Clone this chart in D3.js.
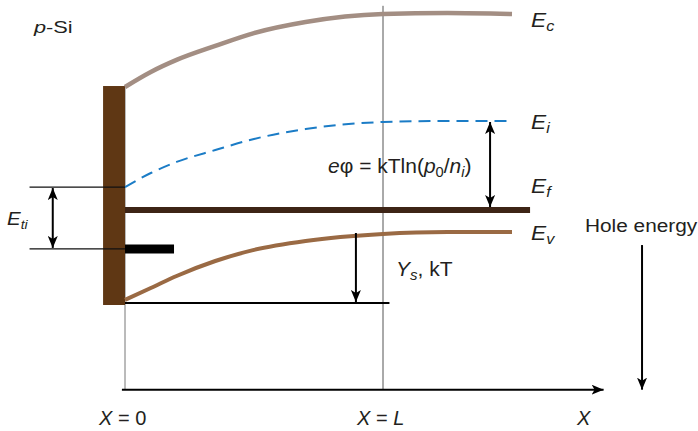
<!DOCTYPE html>
<html>
<head>
<meta charset="utf-8">
<script src="https://cdn.jsdelivr.net/npm/d3@7"></script>
<style>
  body { margin: 0; background: #fff; }
  text { font-family: "Liberation Sans", Arial, sans-serif; fill: #231f20; }
</style>
</head>
<body>
<svg id="chart" width="698" height="431"></svg>
<script>
// position along the semiconductor, in units of L
const xPos = [0, 0.1, 0.2, 0.35, 0.5, 0.7, 1.0, 1.25, 1.5];
// band energies in eV (bulk Ev = 0)
const ecBand = [0.745, 0.822, 0.884, 0.956, 1.022, 1.079, 1.12, 1.125, 1.12];
const eiBand = [0.231, 0.303, 0.360, 0.421, 0.478, 0.529, 0.565, 0.570, 0.570];
const evBand = [-0.349, -0.288, -0.226, -0.149, -0.092, -0.046, -0.010, 0, 0];
const fermiLevel = 0.113;
const trapLevel = -0.087;
const ysLevel = -0.365;
const axisLevel = -0.81;

const svg = d3.select("#chart");

const x = d3.scaleLinear().domain([0, 1]).range([125, 383]);
const y = d3.scaleLinear().domain([0, 1.12]).range([232, 14]);

// arrow heads
const defs = svg.append("defs");
defs.append("marker")
  .attr("id", "head")
  .attr("viewBox", "0 0 12 10")
  .attr("refX", 12).attr("refY", 5)
  .attr("markerWidth", 12).attr("markerHeight", 10)
  .attr("markerUnits", "userSpaceOnUse")
  .attr("orient", "auto-start-reverse")
  .append("path")
  .attr("d", "M0,0 L12,5 L0,10 L3,5 Z")
  .attr("fill", "#000");

const band = d3.line()
  .x((d, i) => x(xPos[i]))
  .y(d => y(d))
  .curve(d3.curveMonotoneX);

// guide lines
svg.append("line")
  .attr("x1", x(1)).attr("x2", x(1))
  .attr("y1", y(1.162)).attr("y2", y(axisLevel))
  .attr("stroke", "#555").attr("stroke-width", 1);
svg.append("line")
  .attr("x1", x(0)).attr("x2", x(0))
  .attr("y1", y(0.75)).attr("y2", y(axisLevel))
  .attr("stroke", "#777").attr("stroke-width", 1);

// x axis
svg.append("line")
  .attr("x1", x(-0.012)).attr("x2", x(1.855))
  .attr("y1", y(axisLevel)).attr("y2", y(axisLevel))
  .attr("stroke", "#000").attr("stroke-width", 2)
  .attr("marker-end", "url(#head)");

// surface wall
svg.append("rect")
  .attr("x", x(-0.085)).attr("width", x(0) - x(-0.085))
  .attr("y", y(0.75)).attr("height", y(-0.375) - y(0.75))
  .attr("fill", "#5f3714");

// bands
svg.append("path").datum(ecBand)
  .attr("d", band).attr("fill", "none")
  .attr("stroke", "#a38e83").attr("stroke-width", 4.5);
svg.append("path").datum(eiBand)
  .attr("d", band).attr("fill", "none")
  .attr("stroke", "#1b7cc6").attr("stroke-width", 2)
  .attr("stroke-dasharray", "12,7");
svg.append("path").datum(evBand)
  .attr("d", band).attr("fill", "none")
  .attr("stroke", "#9a6a44").attr("stroke-width", 4);

// Fermi level
svg.append("line")
  .attr("x1", x(0)).attr("x2", x(1.57))
  .attr("y1", y(fermiLevel)).attr("y2", y(fermiLevel))
  .attr("stroke", "#3d2416").attr("stroke-width", 6);

// surface trap level
svg.append("line")
  .attr("x1", x(0)).attr("x2", x(0.19))
  .attr("y1", y(trapLevel)).attr("y2", y(trapLevel))
  .attr("stroke", "#000").attr("stroke-width", 9);

// Eti markers
[eiBand[0], trapLevel].forEach(e => {
  svg.append("line")
    .attr("x1", x(-0.37)).attr("x2", x(0))
    .attr("y1", y(e)).attr("y2", y(e))
    .attr("stroke", "#111").attr("stroke-width", 1.3);
});

function arrow(x1, y1, x2, y2, both) {
  const l = svg.append("line")
    .attr("x1", x1).attr("y1", y1).attr("x2", x2).attr("y2", y2)
    .attr("stroke", "#000").attr("stroke-width", 2)
    .attr("marker-end", "url(#head)");
  if (both) l.attr("marker-start", "url(#head)");
}

arrow(x(-0.28), y(eiBand[0]) + 1, x(-0.28), y(trapLevel) - 1, true);
arrow(x(1.415), y(0.565), x(1.415), y(fermiLevel) - 3, true);

// Ys line and arrow
svg.append("line")
  .attr("x1", x(0)).attr("x2", x(1.025))
  .attr("y1", y(ysLevel)).attr("y2", y(ysLevel))
  .attr("stroke", "#000").attr("stroke-width", 2);
arrow(x(0.895), y(-0.005), x(0.895), y(ysLevel) - 1, false);

// hole energy arrow
arrow(x(2.004), y(-0.067), x(2.004), y(axisLevel), false);

// labels
function label(px, py, size, stretch, parts) {
  const t = svg.append("text")
    .attr("font-size", size)
    .attr("transform", `translate(${px},${py}) scale(${stretch},1)`);
  const subSize = Math.round(size * 0.7);
  parts.forEach(p => {
    const s = t.append("tspan").text(p.t);
    if (p.i) s.style("font-style", "italic");
    if (p.sub) s.attr("font-size", subSize).attr("dy", 4);
    if (p.up) s.attr("dy", -4);
  });
  return t;
}

label(34, 33, 17, 1.28, [{ t: "p", i: true }, { t: "-Si" }]);
label(531, 27, 21, 1.08, [{ t: "E", i: true }, { t: "c", i: true, sub: true }]);
label(531, 129, 21, 1.08, [{ t: "E", i: true }, { t: "i", i: true, sub: true }]);
label(531, 193, 21, 1.08, [{ t: "E", i: true }, { t: "f", i: true, sub: true }]);
label(531, 240, 21, 1.08, [{ t: "E", i: true }, { t: "v", i: true, sub: true }]);
label(7, 225, 19, 1.08, [{ t: "E", i: true }, { t: "ti", i: true, sub: true }]);
label(585, 232, 17.5, 1.19, [{ t: "Hole energy" }]);
label(396, 276, 21, 1, [{ t: "Y", i: true }, { t: "s", i: true, sub: true }, { t: ", kT", up: true }]);
label(328, 173, 20, 1.05, [
  { t: "e", i: true }, { t: "φ = kTln(" }, { t: "p", i: true },
  { t: "0", sub: true }, { t: "/", up: true }, { t: "n", i: true },
  { t: "i", i: true, sub: true }, { t: ")", up: true }
]);
label(99, 425, 20, 1, [{ t: "X", i: true }, { t: " = 0" }]);
label(357, 425, 20, 1, [{ t: "X", i: true }, { t: " = " }, { t: "L", i: true }]);
label(577, 425, 20, 1, [{ t: "X", i: true }]);
</script>
</body>
</html>
